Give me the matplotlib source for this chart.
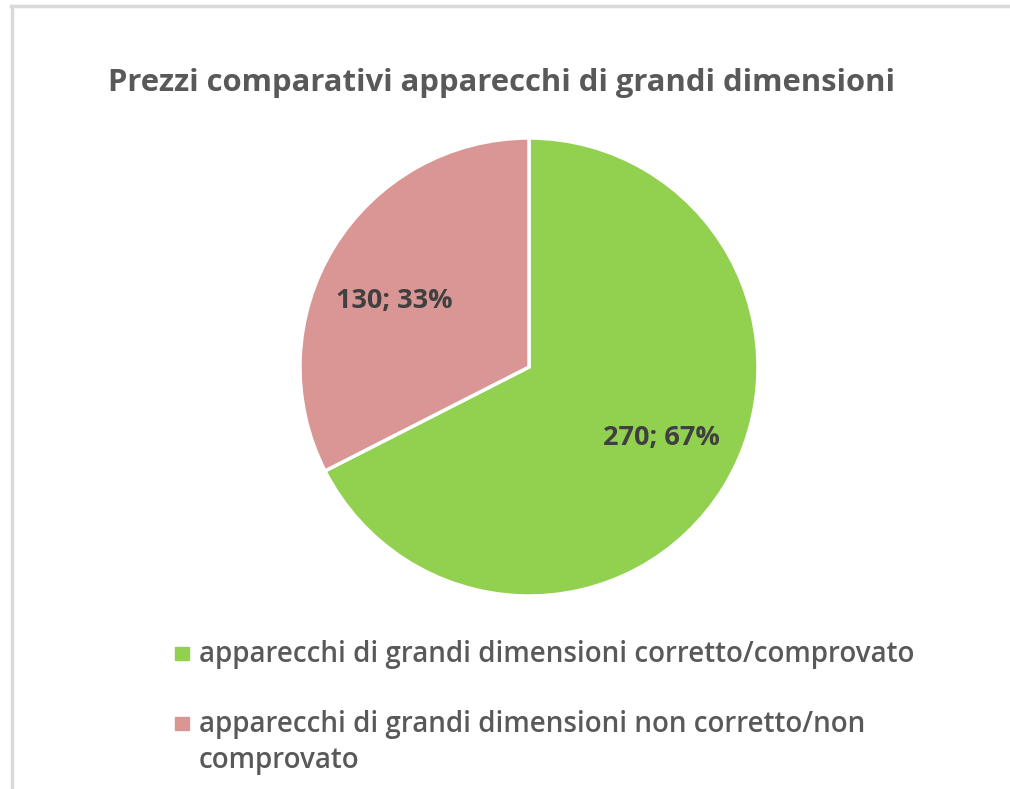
import matplotlib
matplotlib.use("Agg")
import matplotlib.pyplot as plt
from matplotlib.lines import Line2D
from matplotlib.patches import Rectangle

title = "Prezzi comparativi apparecchi di grandi dimensioni"
categories = ["apparecchi di grandi dimensioni corretto/comprovato",
              "apparecchi di grandi dimensioni non corretto/non\ncomprovato"]
values = [270, 130]
percents = ["67%", "33%"]
colors = ["#92D050", "#D99694"]

W, H = 1010, 789
fig = plt.figure(figsize=(W / 100, H / 100), dpi=100)
fig.patch.set_facecolor("white")

FONT = ["Open Sans", "DejaVu Sans"]

# frame lines (top and left)
fig.add_artist(Line2D([11 / W, 1.0], [1 - 6 / H, 1 - 6 / H], color="#D9D9D9", lw=2.5, transform=fig.transFigure))
fig.add_artist(Line2D([12 / W, 12 / W], [0, 1 - 6 / H], color="#D9D9D9", lw=2.5, transform=fig.transFigure))

# pie axes
cx, cy, r = 529, 367, 229
ax = fig.add_axes([(cx - r) / W, 1 - (cy + r) / H, 2 * r / W, 2 * r / H])
wedges, _ = ax.pie(values, colors=colors, startangle=90, counterclock=False,
                   wedgeprops=dict(edgecolor="white", linewidth=2.5), radius=1.0)
ax.set_xlim(-1, 1)
ax.set_ylim(-1, 1)
ax.set_aspect("equal")
ax.axis("off")

# data labels
label_pos = [(0.58, -0.31), (-0.59, 0.29)]
for (x, y), v, p in zip(label_pos, values, percents):
    ax.text(x, y, f"{v}; {p}", ha="center", va="center", fontsize=19.5,
            fontweight="bold", color="#404040", family=FONT)

# title
fig.text(501 / W, 1 - 83 / H, title, ha="center", va="center", fontsize=22.3,
         fontweight="bold", color="#595959", family=FONT)

# legend
base_y = [662, 732]
line_gap = 36
for yb, c, lab in zip(base_y, colors, categories):
    fig.add_artist(Rectangle((175 / W, 1 - 660 / H + (662 - yb) / H), 14 / W, 13 / H, color=c,
                             transform=fig.transFigure))
    for i, line in enumerate(lab.split("\n")):
        fig.text(199 / W, 1 - (yb + i * line_gap) / H, line, ha="left", va="baseline",
                 fontsize=20, fontweight=600, color="#595959", family=FONT)

fig.savefig("out.png", dpi=100, facecolor="white")
